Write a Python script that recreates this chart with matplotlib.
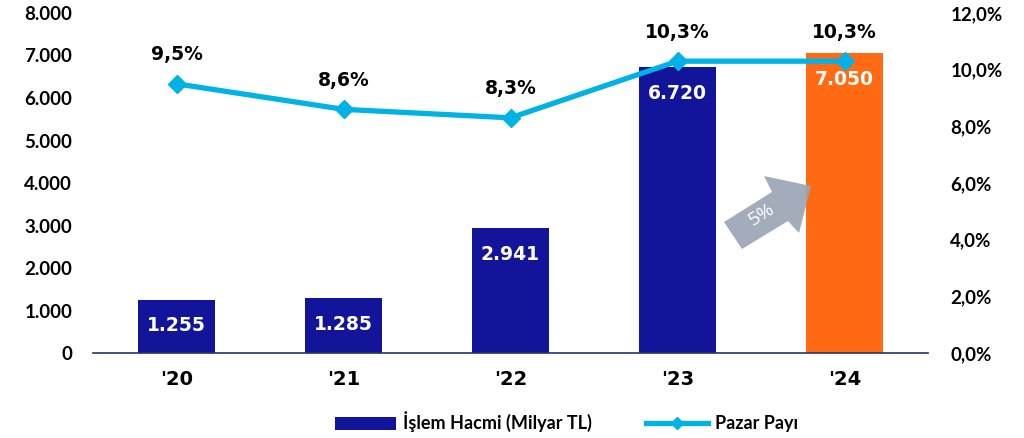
import matplotlib
matplotlib.use("Agg")
import matplotlib.pyplot as plt
from matplotlib.patches import Polygon, Patch
from matplotlib.lines import Line2D
from matplotlib.transforms import IdentityTransform
import numpy as np

categories = ["'20", "'21", "'22", "'23", "'24"]
volume = [1255, 1285, 2941, 6720, 7050]
volume_labels = ["1.255", "1.285", "2.941", "6.720", "7.050"]
share = [9.5, 8.6, 8.3, 10.3, 10.3]
share_labels = ["9,5%", "8,6%", "8,3%", "10,3%", "10,3%"]
left_ticks = [0, 1000, 2000, 3000, 4000, 5000, 6000, 7000, 8000]
left_tick_labels = ["0", "1.000", "2.000", "3.000", "4.000", "5.000", "6.000", "7.000", "8.000"]
right_ticks = [0, 2, 4, 6, 8, 10, 12]
right_tick_labels = ["0,0%", "2,0%", "4,0%", "6,0%", "8,0%", "10,0%", "12,0%"]
arrow_text = "5%"

navy = "#12149A"
orange = "#FF6A13"
cyan = "#00B2E6"
tick_font = "Lato"
tick_weight = "bold"
label_font = "DejaVu Sans"

fig = plt.figure(figsize=(10.24, 4.38), dpi=100)
ax = fig.add_axes([93/1024, 1-353/438, (928-93)/1024, (353-13)/438])
ax2 = ax.twinx()

x = np.arange(len(categories))
colors = [navy]*(len(categories)-1) + [orange]
bars = ax.bar(x, volume, width=0.465, color=colors, zorder=2)
ax.set_xlim(-0.5, len(categories)-0.5)
ax.set_ylim(0, 8000)
ax.set_yticks(left_ticks)
ax.set_yticklabels(left_tick_labels, fontfamily=tick_font, fontweight=tick_weight, fontsize=13.5)
ax.set_xticks(x)
ax.set_xticklabels(categories, fontfamily=label_font, fontweight="bold", fontsize=14)
ax.tick_params(axis="y", length=0, pad=15)
ax.tick_params(axis="x", length=0, pad=12)
for s in ["top", "right", "left"]:
    ax.spines[s].set_visible(False)
ax.spines["bottom"].set_color("#1F3864")
ax.spines["bottom"].set_linewidth(1.2)

for b, lab in zip(bars, volume_labels):
    ax.annotate(lab, (b.get_x()+b.get_width()/2, b.get_height()), xytext=(0, -26),
                textcoords="offset pixels",
                ha="center", va="center", color="white", fontweight="bold",
                fontsize=13.5, fontfamily=label_font, zorder=5)

ax2.plot(x, share, color=cyan, lw=3.8, marker="D", markersize=9, zorder=4)
ax2.set_ylim(0, 12)
ax2.set_yticks(right_ticks)
ax2.set_yticklabels(right_tick_labels, fontfamily=tick_font, fontweight=tick_weight, fontsize=13.5)
ax2.tick_params(axis="y", length=0, pad=16)
for s in ["top", "right", "left", "bottom"]:
    ax2.spines[s].set_visible(False)
for xi, v, lab in zip(x, share, share_labels):
    ax2.annotate(lab, (xi, v), xytext=(0, 29), textcoords="offset pixels",
                 ha="center", va="center", color="black", fontweight="bold",
                 fontsize=13.5, fontfamily=label_font)

# decorative growth arrow (pixel geometry, origin top-left converted)
H = 438
pts = [(724, 222), (772, 192), (764, 176), (811, 186), (799, 233), (788, 221), (742, 249)]
poly = Polygon([(px, H-py) for px, py in pts], closed=True, transform=IdentityTransform(),
               facecolor="#9AA5B4", edgecolor="none", alpha=0.92, zorder=10)
fig.patches.append(poly)
fig.text(762/1024, 1-215/438, arrow_text, rotation=32, ha="center", va="center",
         color="white", fontsize=14, fontfamily="Open Sans", zorder=11)

handles = [Patch(facecolor=navy, edgecolor="none"),
           Line2D([0], [0], color=cyan, lw=3.8, marker="D", markersize=6)]
leg = fig.legend(handles, ["İşlem Hacmi (Milyar TL)", "Pazar Payı"], loc="center",
                 bbox_to_anchor=(0.553, 1-422/438), ncol=2, frameon=False,
                 prop={"family": tick_font, "weight": tick_weight, "size": 13},
                 handlelength=3.4, handleheight=0.75, handletextpad=0.4, columnspacing=3.0)

fig.savefig("out.png", dpi=100)
